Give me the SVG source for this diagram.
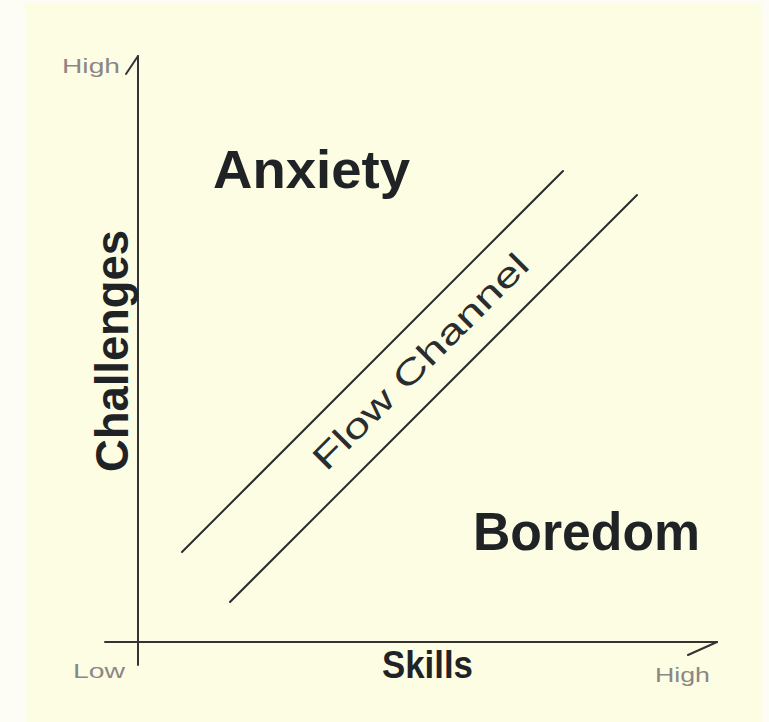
<svg xmlns="http://www.w3.org/2000/svg" width="769" height="722" viewBox="0 0 769 722">
  <style>
    .axis { stroke: #353333; stroke-width: 2; fill: none; stroke-linecap: round; }
    .chan { stroke: #2a2c2e; stroke-width: 2; fill: none; stroke-linecap: round; }
    .tick { font-family: "Liberation Sans", Arial, sans-serif; font-size: 20px; fill: #8c8786; }
    .big { font-family: "Liberation Sans", Arial, sans-serif; font-weight: bold; fill: #1f2326; }
    .flow { font-family: "Liberation Sans", Arial, sans-serif; font-size: 34px; fill: #2a2d30; }
  </style>

  <!-- paper and panel -->
  <rect x="0" y="0" width="769" height="722" fill="#fdfdf6"/>
  <rect x="25" y="3" width="737" height="719" fill="#fdfde3"/>

  <!-- axes with half-barb arrowheads -->
  <g id="connectors">
    <g id="y-axis">
      <line class="axis" x1="138" y1="56" x2="138" y2="665"/>
      <line class="axis" x1="126" y1="74" x2="138" y2="56"/>
    </g>
    <g id="x-axis">
      <line class="axis" x1="105" y1="642" x2="717" y2="642"/>
      <line class="axis" x1="688" y1="655" x2="717" y2="642"/>
    </g>
    <g id="flow-channel-bounds">
      <line class="chan" x1="182" y1="552" x2="563" y2="171"/>
      <line class="chan" x1="230" y1="602" x2="637" y2="195"/>
    </g>
  </g>

  <!-- axis end labels -->
  <g id="label-high-y"><text class="tick" x="62" y="73" textLength="58" lengthAdjust="spacingAndGlyphs">High</text></g>
  <g id="label-low"><text class="tick" x="73" y="678" textLength="52" lengthAdjust="spacingAndGlyphs">Low</text></g>
  <g id="label-high-x"><text class="tick" x="655" y="682" textLength="55" lengthAdjust="spacingAndGlyphs">High</text></g>

  <!-- axis titles -->
  <g id="axis-challenges">
    <text class="big" font-size="46" transform="translate(128,351) rotate(-90)" text-anchor="middle" textLength="242" lengthAdjust="spacingAndGlyphs">Challenges</text>
  </g>
  <g id="axis-skills">
    <text class="big" font-size="38" x="382" y="678" textLength="91" lengthAdjust="spacingAndGlyphs">Skills</text>
  </g>

  <!-- regions -->
  <g id="region-anxiety">
    <text class="big" font-size="54" x="213" y="188" textLength="197" lengthAdjust="spacingAndGlyphs">Anxiety</text>
  </g>
  <g id="region-boredom">
    <text class="big" font-size="54" x="473" y="550" textLength="227" lengthAdjust="spacingAndGlyphs">Boredom</text>
  </g>
  <g id="region-flow">
    <text class="flow" transform="translate(421,362) rotate(-45)" y="11" text-anchor="middle" textLength="290" lengthAdjust="spacingAndGlyphs">Flow Channel</text>
  </g>
</svg>
